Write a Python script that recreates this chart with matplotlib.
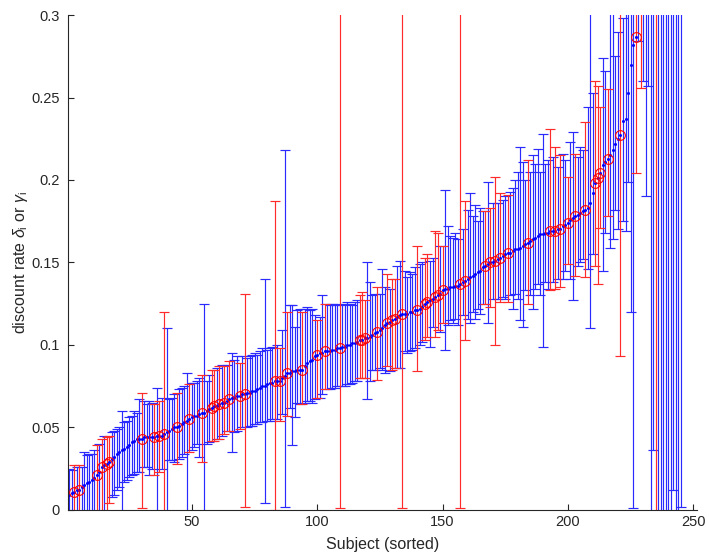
import numpy as np
import matplotlib
matplotlib.use('Agg')
import matplotlib.pyplot as plt

plt.rcParams['font.family'] = ['Liberation Sans', 'DejaVu Sans']
plt.rcParams['mathtext.fontset'] = 'custom'
plt.rcParams['mathtext.it'] = 'Liberation Sans:italic'
plt.rcParams['mathtext.rm'] = 'Liberation Sans'

# posterior mean of the discount rate per subject, sorted
rate_mean = [
    0.009, 0.010, 0.011, 0.012, 0.012, 0.014, 0.015, 0.016, 0.017, 0.018,
    0.019, 0.021, 0.023, 0.026, 0.027, 0.028, 0.029, 0.031, 0.032, 0.034,
    0.035, 0.036, 0.037, 0.038, 0.039, 0.041, 0.042, 0.043, 0.043, 0.043,
    0.044, 0.044, 0.044, 0.044, 0.044, 0.045, 0.045, 0.045, 0.046, 0.047,
    0.048, 0.049, 0.050, 0.050, 0.051, 0.052, 0.053, 0.054, 0.055, 0.056,
    0.057, 0.057, 0.058, 0.059, 0.059, 0.060, 0.061, 0.062, 0.063, 0.063,
    0.064, 0.065, 0.065, 0.066, 0.067, 0.068, 0.068, 0.069, 0.069, 0.070,
    0.070, 0.071, 0.071, 0.072, 0.072, 0.073, 0.074, 0.075, 0.075, 0.076,
    0.077, 0.077, 0.078, 0.078, 0.078, 0.080, 0.081, 0.083, 0.083, 0.084,
    0.084, 0.085, 0.085, 0.085, 0.087, 0.089, 0.090, 0.091, 0.093, 0.094,
    0.095, 0.095, 0.096, 0.096, 0.096, 0.097, 0.097, 0.098, 0.098, 0.099,
    0.099, 0.100, 0.100, 0.101, 0.101, 0.102, 0.103, 0.103, 0.104, 0.104,
    0.105, 0.106, 0.107, 0.108, 0.109, 0.110, 0.112, 0.113, 0.114, 0.115,
    0.116, 0.117, 0.118, 0.119, 0.119, 0.119, 0.120, 0.120, 0.121, 0.121,
    0.122, 0.123, 0.125, 0.126, 0.127, 0.128, 0.129, 0.130, 0.131, 0.133,
    0.134, 0.134, 0.135, 0.135, 0.136, 0.136, 0.137, 0.138, 0.139, 0.140,
    0.141, 0.142, 0.143, 0.144, 0.145, 0.147, 0.148, 0.149, 0.150, 0.150,
    0.151, 0.152, 0.153, 0.154, 0.155, 0.156, 0.156, 0.157, 0.158, 0.158,
    0.159, 0.160, 0.161, 0.162, 0.163, 0.164, 0.165, 0.166, 0.167, 0.167,
    0.168, 0.168, 0.169, 0.169, 0.169, 0.170, 0.170, 0.172, 0.173, 0.174,
    0.176, 0.177, 0.178, 0.179, 0.180, 0.181, 0.182, 0.183, 0.186, 0.192,
    0.198, 0.201, 0.204, 0.209, 0.211, 0.213, 0.215, 0.218, 0.222, 0.225,
    0.227, 0.236, 0.237, 0.253, 0.270, 0.282, 0.287, 0.310, 0.330, 0.350,
    0.370, 0.390, 0.410, 0.435, 0.460, 0.490, 0.520, 0.560, 0.610, 0.670,
    0.740, 0.820, 0.930, 1.080, 1.250,
]

# upper end of each interval
rate_high = [
    0.025, 0.024, 0.027, 0.026, 0.027, 0.026, 0.035, 0.033, 0.034, 0.034,
    0.036, 0.039, 0.040, 0.043, 0.045, 0.044, 0.045, 0.047, 0.048, 0.049,
    0.050, 0.060, 0.053, 0.054, 0.056, 0.057, 0.060, 0.059, 0.067, 0.071,
    0.066, 0.064, 0.066, 0.065, 0.064, 0.074, 0.066, 0.068, 0.120, 0.110,
    0.067, 0.068, 0.070, 0.071, 0.073, 0.074, 0.075, 0.083, 0.076, 0.077,
    0.077, 0.078, 0.080, 0.082, 0.125, 0.078, 0.082, 0.085, 0.085, 0.086,
    0.087, 0.088, 0.087, 0.088, 0.090, 0.095, 0.091, 0.093, 0.089, 0.093,
    0.131, 0.092, 0.093, 0.094, 0.095, 0.094, 0.096, 0.098, 0.140, 0.097,
    0.098, 0.099, 0.187, 0.100, 0.098, 0.109, 0.218, 0.120, 0.124, 0.124,
    0.111, 0.121, 0.122, 0.120, 0.122, 0.123, 0.121, 0.122, 0.118, 0.115,
    0.117, 0.130, 0.125, 0.125, 0.124, 0.125, 0.124, 0.125, 0.450, 0.124,
    0.125, 0.126, 0.125, 0.124, 0.126, 0.127, 0.130, 0.132, 0.127, 0.150,
    0.138, 0.130, 0.131, 0.135, 0.131, 0.146, 0.135, 0.143, 0.134, 0.140,
    0.140, 0.148, 0.151, 0.450, 0.145, 0.141, 0.144, 0.143, 0.147, 0.160,
    0.149, 0.150, 0.153, 0.155, 0.151, 0.153, 0.169, 0.168, 0.160, 0.160,
    0.194, 0.172, 0.166, 0.165, 0.168, 0.164, 0.450, 0.170, 0.187, 0.182,
    0.192, 0.178, 0.185, 0.175, 0.183, 0.181, 0.181, 0.199, 0.183, 0.186,
    0.202, 0.186, 0.192, 0.188, 0.190, 0.191, 0.193, 0.195, 0.200, 0.205,
    0.220, 0.211, 0.200, 0.212, 0.205, 0.215, 0.210, 0.219, 0.205, 0.228,
    0.210, 0.212, 0.231, 0.214, 0.220, 0.208, 0.215, 0.216, 0.212, 0.202,
    0.223, 0.229, 0.216, 0.214, 0.220, 0.218, 0.235, 0.244, 0.450, 0.253,
    0.260, 0.257, 0.244, 0.274, 0.266, 0.255, 0.450, 0.450, 0.275, 0.290,
    0.450, 0.298, 0.450, 0.450, 0.450, 0.450, 0.450, 0.600, 0.650, 0.700,
    0.750, 0.800, 0.850, 0.900, 0.950, 1.000, 1.100, 1.200, 1.300, 1.400,
    1.500, 1.600, 1.700, 1.800, 1.900,
]

# lower end of each interval
rate_low = [
    -0.010, -0.010, -0.010, -0.010, -0.010, -0.010, -0.010, -0.010, -0.010, -0.010,
    -0.010, -0.010, -0.010, -0.010, -0.010, -0.010, 0.004, 0.008, 0.009, 0.012,
    0.014, -0.010, 0.017, 0.018, 0.020, 0.021, 0.022, 0.023, 0.023, 0.001,
    0.026, 0.026, 0.021, 0.025, 0.021, -0.010, 0.023, 0.025, -0.010, -0.010,
    0.030, 0.030, 0.029, 0.028, 0.031, 0.032, 0.034, -0.010, 0.035, 0.036,
    0.038, 0.040, 0.032, 0.029, -0.010, 0.040, 0.041, 0.042, 0.042, 0.043,
    0.043, 0.045, 0.046, 0.048, 0.048, 0.035, 0.047, 0.048, 0.049, 0.050,
    0.002, 0.050, 0.051, 0.051, 0.052, 0.052, 0.053, 0.053, 0.004, 0.054,
    0.054, 0.055, 0.000, 0.055, 0.054, 0.058, 0.002, 0.057, 0.062, 0.039,
    0.056, 0.065, 0.064, 0.064, 0.065, 0.066, 0.066, 0.065, 0.067, 0.068,
    0.068, 0.070, 0.073, 0.073, 0.073, 0.074, 0.074, 0.075, 0.001, 0.075,
    0.075, 0.076, 0.076, 0.077, 0.078, 0.078, 0.080, 0.080, 0.080, 0.067,
    0.078, 0.085, 0.085, 0.079, 0.086, 0.085, 0.083, 0.087, 0.084, 0.085,
    0.086, 0.086, 0.086, 0.001, 0.096, 0.095, 0.096, 0.097, 0.098, 0.084,
    0.100, 0.102, 0.103, 0.105, 0.099, 0.111, 0.105, 0.109, 0.108, 0.113,
    0.097, 0.112, 0.115, 0.113, 0.116, 0.112, 0.001, 0.118, 0.103, 0.116,
    0.113, 0.120, 0.116, 0.122, 0.119, 0.125, 0.125, 0.113, 0.123, 0.128,
    0.100, 0.128, 0.126, 0.129, 0.128, 0.126, 0.130, 0.122, 0.131, 0.128,
    0.115, 0.111, 0.133, 0.125, 0.130, 0.122, 0.134, 0.137, 0.130, 0.099,
    0.138, 0.134, 0.133, 0.138, 0.134, 0.140, 0.135, 0.140, 0.145, 0.149,
    0.140, 0.127, 0.142, 0.148, 0.150, 0.152, 0.141, 0.146, 0.110, 0.155,
    0.148, 0.137, 0.171, 0.145, 0.168, 0.178, 0.159, 0.164, 0.182, 0.170,
    0.093, 0.175, 0.169, 0.199, 0.120, 0.001, 0.204, 0.284, 0.256, 0.260,
    0.190, 0.257, -0.050, 0.036, -0.050, -0.080, -0.100, -0.100, -0.120, -0.150,
    -0.150, 0.012, -0.200, -0.200, 0.002,
]

# subjects whose estimate comes from the gamma model (drawn in red)
gamma_subjects = [
    3, 5, 12, 14, 16, 17, 30, 35, 37, 39, 44, 49, 54, 58, 59, 61, 63, 65,
    69, 71, 83, 85, 88, 94, 100, 103, 109, 117, 118, 119, 124, 128, 130,
    131, 134, 140, 143, 144, 147, 148, 150, 157, 159, 167, 169, 171, 173,
    176, 184, 193, 195, 197, 200, 203, 207, 211, 212, 213, 216, 221, 227,
    229, 235,
]

y_ticks = [0, 0.05, 0.1, 0.15, 0.2, 0.25, 0.3]
y_tick_labels = ['0', '0.05', '0.1', '0.15', '0.2', '0.25', '0.3']
x_ticks = [50, 100, 150, 200, 250]

mean = np.array(rate_mean)
low = np.array(rate_low)
high = np.array(rate_high)
subject = np.arange(1, len(mean) + 1)
is_red = np.isin(subject, gamma_subjects)
is_blue = ~is_red

fig = plt.figure(figsize=(7.09, 5.59), dpi=100)
ax = fig.add_axes([0.096, 0.088, 0.887, 0.885])

err = np.vstack([mean - low, high - mean])

for sel, col in [(is_blue, '#2a2aff'), (is_red, '#ff2a2a')]:
    eb = ax.errorbar(subject[sel], mean[sel], yerr=err[:, sel], fmt='none',
                     ecolor=col, elinewidth=0.85, capsize=3.5, capthick=0.85)
    for cap in eb[1]:
        cap.set_markeredgecolor(col)

ax.plot(subject, mean, linestyle='none', marker='o', markersize=2.2,
        color='blue', markeredgewidth=0)
ax.plot(subject[is_red], mean[is_red], linestyle='none', marker='o',
        markersize=7, markerfacecolor='none', markeredgecolor='red',
        markeredgewidth=0.8)

ax.set_xlim(0.6, 251.5)
ax.set_ylim(0, 0.3)
ax.set_xticks(x_ticks)
ax.set_yticks(y_ticks)
ax.set_yticklabels(y_tick_labels)

axis_grey = '#262626'
for side in ['top', 'right']:
    ax.spines[side].set_visible(False)
for side in ['left', 'bottom']:
    ax.spines[side].set_color(axis_grey)
    ax.spines[side].set_linewidth(0.8)
ax.tick_params(direction='in', length=4, width=0.8, colors=axis_grey,
               labelsize=10.5, labelcolor=axis_grey)
ax.tick_params(axis='y', pad=6)

ax.set_xlabel('Subject (sorted)', fontsize=11.5, color=axis_grey, labelpad=6)
ax.set_ylabel(r'discount rate $\delta_{\rm i}$ or $\gamma_{\rm i}$',
              fontsize=11.5, color=axis_grey, labelpad=1)

fig.savefig('out.png', dpi=100, facecolor='white')
